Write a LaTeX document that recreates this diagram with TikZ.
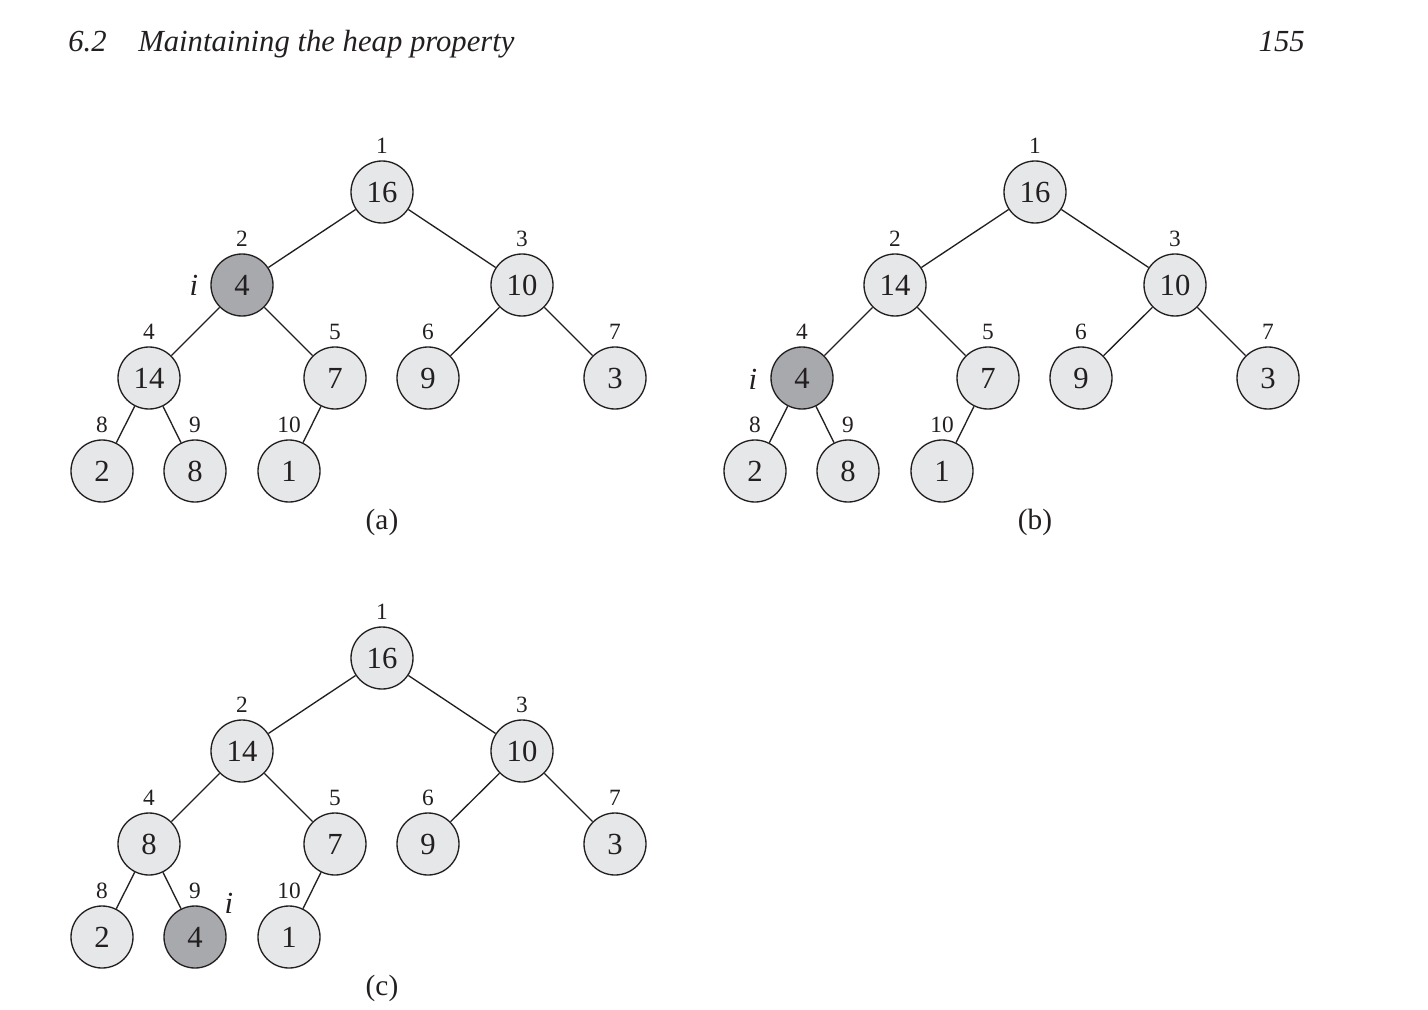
\documentclass[tikz,border=0pt]{standalone}
\usepackage{fontspec}
\setmainfont{Liberation Serif}
\usetikzlibrary{positioning}
\definecolor{keyfill}{HTML}{E6E7E8}
\definecolor{curfill}{HTML}{A7A9AC}
\definecolor{ink}{HTML}{231F20}

\begin{document}
\begin{tikzpicture}[x=0.75pt, y=-0.75pt]
  \useasboundingbox (0,0) rectangle (1428,1010);  % page size
  \tikzstyle{vertex}=[circle, draw=ink, line width=1pt, minimum size=46.5pt, inner sep=0pt, fill=keyfill, text=ink, font=\fontsize{23}{27}\selectfont]
  \tikzstyle{cur}=[fill=curfill]
  \tikzstyle{idx}=[inner sep=0pt, text=ink, font=\fontsize{17.5}{20}\selectfont]
  \tikzstyle{caption}=[inner sep=0pt, text=ink, font=\fontsize{22}{26}\selectfont]
  \tikzstyle{ptr}=[inner sep=0pt, text=ink, font=\fontsize{23}{27}\selectfont\itshape]
  \tikzstyle{every edge}=[draw=ink, line width=1pt]

  % Kopfzeile
  \node[ptr, anchor=base west] (sec) at (68,51) {6.2};
  \node[ptr, anchor=base west] (title) at (138,51) {Maintaining the heap property};
  \node[ptr, anchor=base east] (page) at (1305,51) {155};

  % (a)
  \node[vertex] (a1) at (382,192) {16};
  \node[vertex, cur] (a2) at (242,285) {4};
  \node[vertex] (a3) at (522,285) {10};
  \node[vertex] (a4) at (149,378) {14};
  \node[vertex] (a5) at (335,378) {7};
  \node[vertex] (a6) at (428,378) {9};
  \node[vertex] (a7) at (615,378) {3};
  \node[vertex] (a8) at (102,471) {2};
  \node[vertex] (a9) at (195,471) {8};
  \node[vertex] (a10) at (289,471) {1};

  \node[idx, above=5pt of a1] (la1) {1};
  \node[idx, above=5pt of a2] (la2) {2};
  \node[idx, above=5pt of a3] (la3) {3};
  \node[idx, above=5pt of a4] (la4) {4};
  \node[idx, above=5pt of a5] (la5) {5};
  \node[idx, above=5pt of a6] (la6) {6};
  \node[idx, above=5pt of a7] (la7) {7};
  \node[idx, above=5pt of a8] (la8) {8};
  \node[idx, above=5pt of a9] (la9) {9};
  \node[idx, above=5pt of a10] (la10) {10};

  \node[ptr] (ia) at (194,285) {i};
  \node[caption] (capa) at (382,522) {(a)};

  \path (a1) edge (a2);
  \path (a1) edge (a3);
  \path (a2) edge (a4);
  \path (a2) edge (a5);
  \path (a3) edge (a6);
  \path (a3) edge (a7);
  \path (a4) edge (a8);
  \path (a4) edge (a9);
  \path (a5) edge (a10);

  % (b)
  \node[vertex] (b1) at (1035,192) {16};
  \node[vertex] (b2) at (895,285) {14};
  \node[vertex] (b3) at (1175,285) {10};
  \node[vertex, cur] (b4) at (802,378) {4};
  \node[vertex] (b5) at (988,378) {7};
  \node[vertex] (b6) at (1081,378) {9};
  \node[vertex] (b7) at (1268,378) {3};
  \node[vertex] (b8) at (755,471) {2};
  \node[vertex] (b9) at (848,471) {8};
  \node[vertex] (b10) at (942,471) {1};

  \node[idx, above=5pt of b1] (lb1) {1};
  \node[idx, above=5pt of b2] (lb2) {2};
  \node[idx, above=5pt of b3] (lb3) {3};
  \node[idx, above=5pt of b4] (lb4) {4};
  \node[idx, above=5pt of b5] (lb5) {5};
  \node[idx, above=5pt of b6] (lb6) {6};
  \node[idx, above=5pt of b7] (lb7) {7};
  \node[idx, above=5pt of b8] (lb8) {8};
  \node[idx, above=5pt of b9] (lb9) {9};
  \node[idx, above=5pt of b10] (lb10) {10};

  \node[ptr] (ib) at (753,379) {i};
  \node[caption] (capb) at (1035,522) {(b)};

  \path (b1) edge (b2);
  \path (b1) edge (b3);
  \path (b2) edge (b4);
  \path (b2) edge (b5);
  \path (b3) edge (b6);
  \path (b3) edge (b7);
  \path (b4) edge (b8);
  \path (b4) edge (b9);
  \path (b5) edge (b10);

  % (c)
  \node[vertex] (c1) at (382,658) {16};
  \node[vertex] (c2) at (242,751) {14};
  \node[vertex] (c3) at (522,751) {10};
  \node[vertex] (c4) at (149,844) {8};
  \node[vertex] (c5) at (335,844) {7};
  \node[vertex] (c6) at (428,844) {9};
  \node[vertex] (c7) at (615,844) {3};
  \node[vertex] (c8) at (102,937) {2};
  \node[vertex, cur] (c9) at (195,937) {4};
  \node[vertex] (c10) at (289,937) {1};

  \node[idx, above=5pt of c1] (lc1) {1};
  \node[idx, above=5pt of c2] (lc2) {2};
  \node[idx, above=5pt of c3] (lc3) {3};
  \node[idx, above=5pt of c4] (lc4) {4};
  \node[idx, above=5pt of c5] (lc5) {5};
  \node[idx, above=5pt of c6] (lc6) {6};
  \node[idx, above=5pt of c7] (lc7) {7};
  \node[idx, above=5pt of c8] (lc8) {8};
  \node[idx, above=5pt of c9] (lc9) {9};
  \node[idx, above=5pt of c10] (lc10) {10};

  \node[ptr] (ic) at (229,903) {i};
  \node[caption] (capc) at (382,988) {(c)};

  \path (c1) edge (c2);
  \path (c1) edge (c3);
  \path (c2) edge (c4);
  \path (c2) edge (c5);
  \path (c3) edge (c6);
  \path (c3) edge (c7);
  \path (c4) edge (c8);
  \path (c4) edge (c9);
  \path (c5) edge (c10);
\end{tikzpicture}
\end{document}
